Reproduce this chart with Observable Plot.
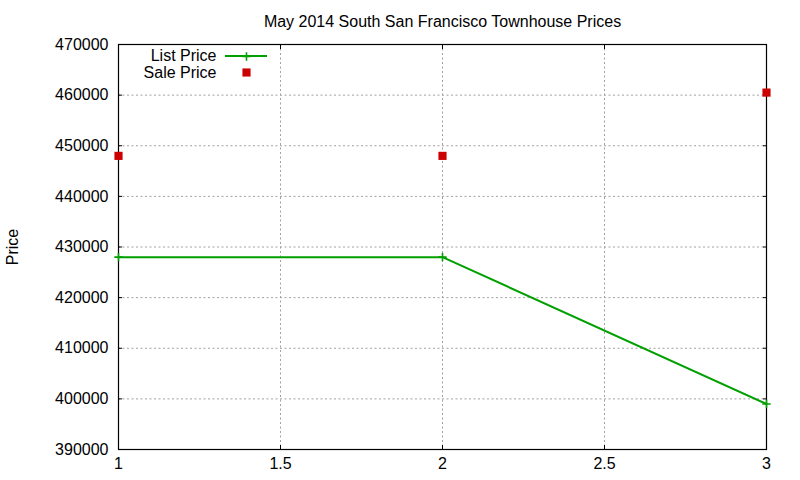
<!DOCTYPE html>
<html>
<head>
<meta charset="utf-8">
<script src="https://cdn.jsdelivr.net/npm/d3@7"></script>
<script src="https://cdn.jsdelivr.net/npm/@observablehq/plot@0.6"></script>
<style>
  html, body { margin: 0; padding: 0; background: #fff; }
  svg { font-family: "Liberation Sans", Arial, sans-serif; }
</style>
</head>
<body>
<div id="chart"></div>
<script>
const title = "May 2014 South San Francisco Townhouse Prices";
const yLabel = "Price";
const xValues = [1, 2, 3];
const listPrice = [428000, 428000, 399000];
const salePrice = [448000, 448000, 460500];
const xTicks = [1, 1.5, 2, 2.5, 3];
const yTicks = [390000, 400000, 410000, 420000, 430000, 440000, 450000, 460000, 470000];
const seriesNames = ["List Price", "Sale Price"];
const listColor = "#00a000";
const saleColor = "#cc0000";

const listData = xValues.map((x, i) => ({x, y: listPrice[i]}));
const saleData = xValues.map((x, i) => ({x, y: salePrice[i]}));

const gridStyle = {stroke: "#a0a0a0", strokeOpacity: 1, strokeWidth: 1, strokeDasharray: "2,2.5"};
const fontSize = 16;

const chart = Plot.plot({
  width: 800,
  height: 480,
  marginLeft: 118,
  marginRight: 34,
  marginTop: 44,
  marginBottom: 31,
  style: {fontFamily: "'Liberation Sans', Arial, sans-serif", fontSize: fontSize + "px", color: "#000", background: "#fff"},
  x: {domain: [1, 3], label: null},
  y: {domain: [390000, 470000], label: null},
  marks: [
    Plot.gridX(xTicks, gridStyle),
    Plot.gridY(yTicks, gridStyle),
    Plot.axisX({ticks: xTicks, tickSize: -4, tickPadding: 12, tickFormat: d => String(d), label: null, fontSize: fontSize}),
    Plot.axisX({anchor: "top", ticks: xTicks, tickSize: -4, tickFormat: () => "", label: null}),
    Plot.axisY({ticks: yTicks, tickSize: -4, tickPadding: 14, tickFormat: d => String(d), label: null, fontSize: fontSize}),
    Plot.axisY({anchor: "right", ticks: yTicks, tickSize: -4, tickFormat: () => "", label: null}),
    Plot.frame({stroke: "#000", strokeWidth: 1.2}),
    Plot.line(listData, {x: "x", y: "y", stroke: listColor, strokeWidth: 2}),
    Plot.dot(listData, {x: "x", y: "y", symbol: "plus", stroke: listColor, strokeWidth: 1.6, r: 2.8}),
    Plot.dot(saleData, {x: "x", y: "y", symbol: "square", fill: saleColor, stroke: "none", r: 4.6}),
    Plot.text([title], {frameAnchor: "top", dy: -23, lineAnchor: "middle", fontSize: fontSize, fill: "#000"}),
    Plot.text([yLabel], {frameAnchor: "left", dx: -106, rotate: -90, lineAnchor: "middle", textAnchor: "middle", fontSize: fontSize, fill: "#000"}),
    Plot.text([seriesNames[0]], {frameAnchor: "top-left", dx: 98, dy: 11, lineAnchor: "middle", textAnchor: "end", fontSize: fontSize, fill: "#000"}),
    Plot.text([seriesNames[1]], {frameAnchor: "top-left", dx: 98, dy: 28, lineAnchor: "middle", textAnchor: "end", fontSize: fontSize, fill: "#000"}),
    Plot.dot([seriesNames[0]], {frameAnchor: "top-left", dx: 128, dy: 12, symbol: "plus", stroke: listColor, strokeWidth: 1.6, r: 2.8}),
    Plot.dot([seriesNames[1]], {frameAnchor: "top-left", dx: 128, dy: 28, symbol: "square", fill: saleColor, stroke: "none", r: 4.6})
  ]
});

// legend line swatch for List Price
const svg = d3.select(chart);
svg.append("line")
  .attr("x1", 225).attr("x2", 267)
  .attr("y1", 56).attr("y2", 56)
  .attr("stroke", listColor).attr("stroke-width", 2);

document.getElementById("chart").appendChild(chart);
</script>
</body>
</html>
